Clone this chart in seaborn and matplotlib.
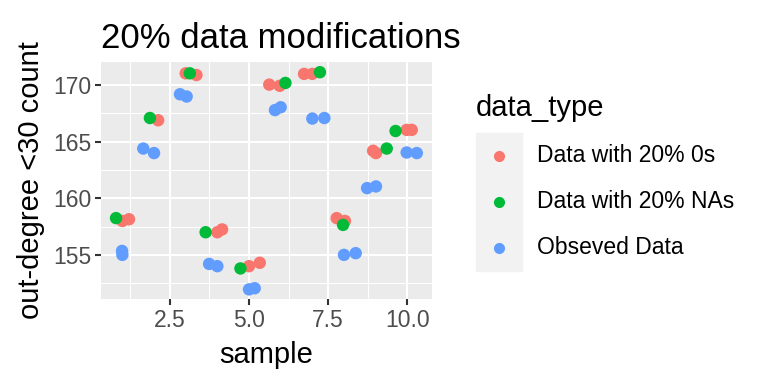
import pandas as pd
import numpy as np
import seaborn as sns
import matplotlib.pyplot as plt
from matplotlib.patches import Rectangle
from matplotlib.ticker import MultipleLocator

# 표본별 값 (그림에서 읽은 값, 지터 포함)
zeros_x = [1.00, 1.21, 2.13, 3.00, 3.34, 4.00, 4.15, 5.00, 5.34, 5.64,
           5.97, 6.74, 7.00, 7.77, 8.03, 8.92, 9.01, 9.98, 10.14]
zeros_y = [158.0, 158.15, 166.9, 171.05, 170.9, 157.0, 157.25, 154.0, 154.3, 170.05,
           169.95, 171.0, 171.0, 158.25, 158.0, 164.2, 164.0, 166.05, 166.05]

nas_x = [0.80, 1.87, 3.13, 3.63, 4.73, 6.15, 7.24, 7.97, 9.35, 9.63]
nas_y = [158.25, 167.1, 171.05, 157.0, 153.8, 170.2, 171.15, 157.65, 164.4, 165.95]

obs_x = [0.99, 1.00, 1.66, 2.00, 2.82, 3.03, 3.74, 4.00, 5.00, 5.18,
         5.82, 6.00, 7.00, 7.38, 8.00, 8.37, 8.73, 9.01, 9.98, 10.30]
obs_y = [155.35, 155.0, 164.4, 164.0, 169.2, 169.0, 154.2, 154.0, 151.95, 152.05,
         167.8, 168.05, 167.05, 167.1, 155.0, 155.15, 160.9, 161.05, 164.05, 164.0]

types = ['Data with 20% 0s', 'Data with 20% NAs', 'Obseved Data']
colors = ['#F8766D', '#00BA38', '#619CFF']

df = pd.concat([
    pd.DataFrame({'sample': zeros_x, 'count': zeros_y, 'data_type': types[0]}),
    pd.DataFrame({'sample': nas_x, 'count': nas_y, 'data_type': types[1]}),
    pd.DataFrame({'sample': obs_x, 'count': obs_y, 'data_type': types[2]}),
])

plt.rcParams['font.family'] = ['Liberation Sans', 'DejaVu Sans']

fig = plt.figure(figsize=(7.68, 3.84), dpi=100)
ax = fig.add_axes([0.1315, 0.2214, 0.431, 0.6171])
ax.set_facecolor('#EBEBEB')

sns.scatterplot(data=df, x='sample', y='count', hue='data_type',
                hue_order=types, palette=colors, s=80, linewidth=0,
                ax=ax, legend=False, zorder=3)

ax.set_xlim(0.325, 10.78)
ax.set_ylim(151.1, 172.05)
ax.xaxis.set_major_locator(MultipleLocator(2.5))
ax.xaxis.set_minor_locator(MultipleLocator(1.25))
ax.yaxis.set_major_locator(MultipleLocator(5))
ax.yaxis.set_minor_locator(MultipleLocator(2.5))
ax.grid(which='major', color='white', lw=1.5)
ax.grid(which='minor', color='white', lw=0.75)
ax.set_axisbelow(True)
for sp in ax.spines.values():
    sp.set_visible(False)
ax.tick_params(which='major', length=4, width=1.5, color='#333333',
               labelsize=16.5, labelcolor='#4D4D4D', pad=3)
ax.tick_params(which='minor', length=0)
ax.set_xticks([2.5, 5.0, 7.5, 10.0])
ax.set_xticklabels(['2.5', '5.0', '7.5', '10.0'])

ax.set_xlabel('sample', fontsize=21, labelpad=7)
ax.set_ylabel('out-degree <30 count', fontsize=21, labelpad=6)
ax.set_title('20% data modifications', fontsize=25, loc='left', pad=10)

# 범례
fig.text(476 / 768, 1 - 108 / 384, 'data_type', fontsize=21, va='center')
fig.patches.append(Rectangle((476 / 768, 1 - 271 / 384), 46 / 768, 138 / 384,
                             transform=fig.transFigure, color='#F2F2F2', zorder=0))
for i, (t, c) in enumerate(zip(types, colors)):
    yy = 1 - (156 + 46 * i) / 384
    fig.lines.append(plt.Line2D([499 / 768], [yy], marker='o', ms=8, color=c,
                                mec='none', transform=fig.transFigure))
    fig.text(537 / 768, yy, t, fontsize=16.5, va='center')

plt.savefig('out.png', dpi=100)
